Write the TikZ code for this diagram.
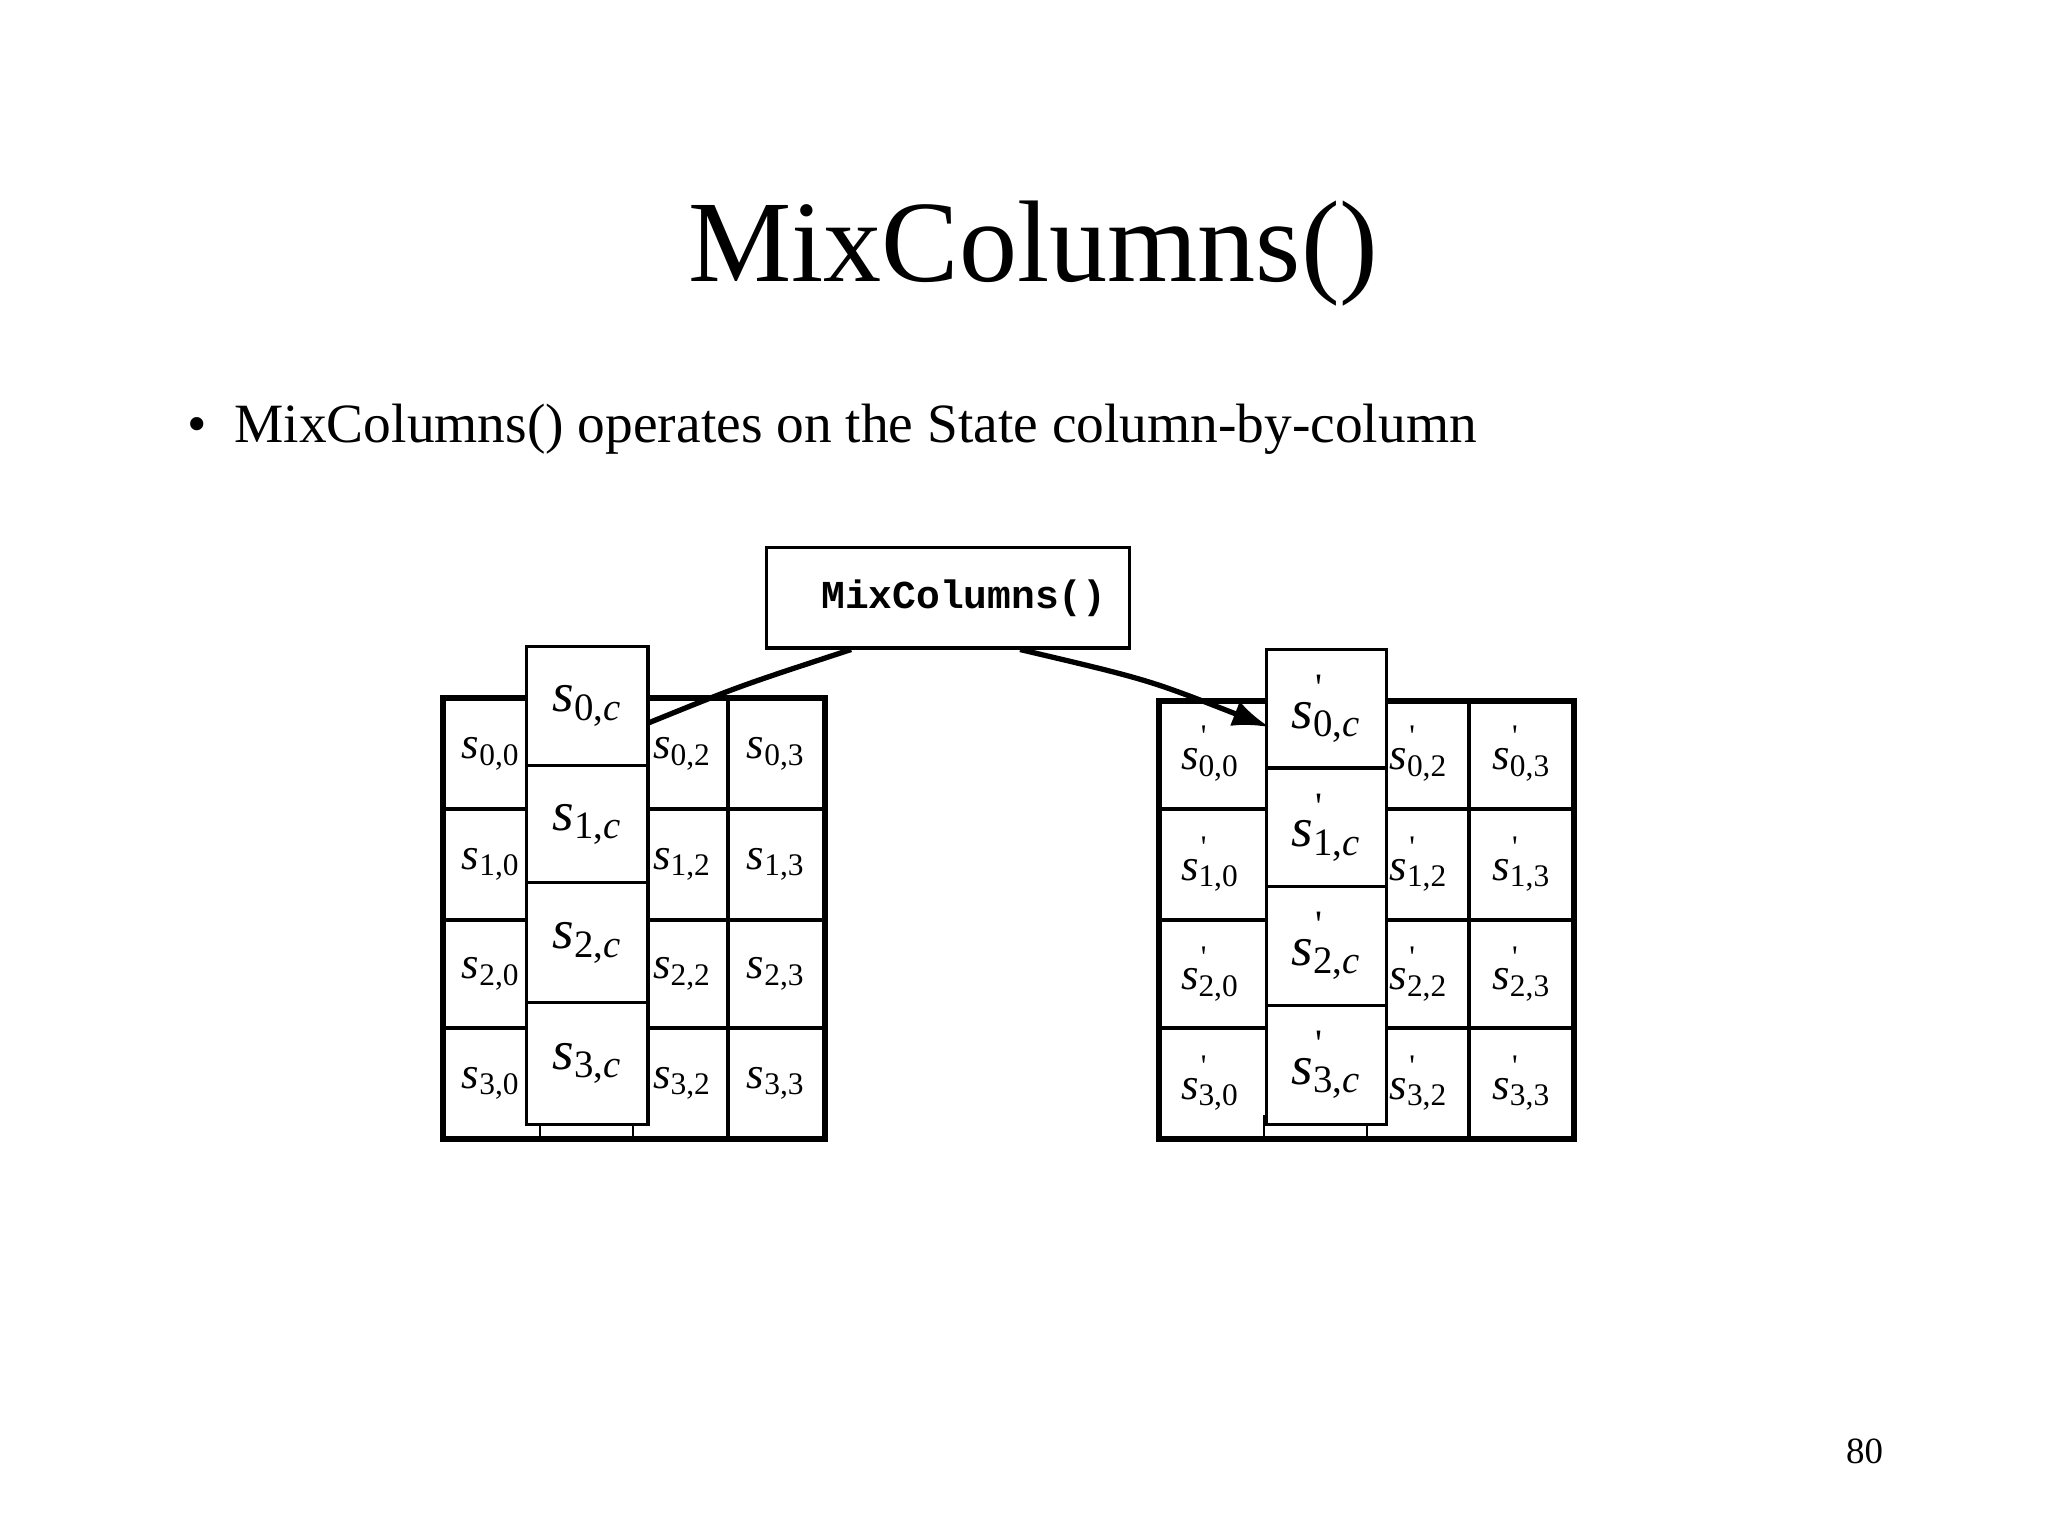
\documentclass[tikz,border=0pt]{standalone}
\usepackage{fontspec}
\setmainfont{Liberation Serif}
\setmonofont{Liberation Mono}
\usetikzlibrary{arrows.meta}
\newcommand{\cl}[2]{\textit{s}\textsubscript{#2}}
\newcommand{\cp}[2]{\textit{s}\rlap{\raisebox{0.5em}{\kern0.05em\scalebox{0.7}{\textquotesingle}}}\textsubscript{#2}}
\begin{document}
\begin{tikzpicture}[x=0.5pt,y=-0.5pt,
  cellt/.style={font=\fontsize{17}{17}\selectfont,inner sep=0},
  bigt/.style={font=\fontsize{21}{21}\selectfont,inner sep=0},
  ovl/.style={draw,line width=1.2pt,fill=white}]
\path[use as bounding box] (0,0) rectangle (1552,1164);
\node (title) at (783,192) {\fontsize{44}{44}\selectfont MixColumns()};
\node[anchor=west] (bul) at (135,325) {\fontsize{21}{21}\selectfont \textbullet\hspace{0.5em}MixColumns() operates on the State column-by-column};
\node[anchor=east] (pg) at (1434,1100) {\fontsize{14}{14}\selectfont 80};
\node[draw,line width=1.2pt,minimum width=137.5pt,minimum height=38pt,inner sep=0] (mc) at (718.5,453) {\hspace{1.2em}\fontsize{15}{15}\selectfont\ttfamily\bfseries MixColumns()};
% left grid
\foreach \x in {409,480}{\draw[line width=0.8pt] (\x,845) -- (\x,863);}
\foreach \x in {552}{\draw[line width=1.5pt] (\x,529) -- (\x,863);}
\foreach \y in {613,697,779}{\draw[line width=1.5pt] (336,\y) -- (625,\y);}
\draw[line width=2.2pt] (336,529) rectangle (625,863);
\foreach \r/\y in {0/571,1/655,2/738,3/821}{
  \node[cellt] (l\r0) at (372,\y) {\cl{}{\r,0}};
  \node[cellt] (l\r2) at (517,\y) {\cl{}{\r,2}};
  \node[cellt] (l\r3) at (588,\y) {\cl{}{\r,3}};}
\foreach \r/\a/\b in {0/490/580,1/580/669,2/669/760,3/760/852}{
  \draw[ovl] (399,\a) rectangle (491,\b);
  \node[bigt] (lc\r) at (445,{(\a+\b)/2}) {\cl{}{\r,\textit{c}}};}
% right grid
\foreach \x in {958,1036}{\draw[line width=0.8pt] (\x,845) -- (\x,863);}
\foreach \x in {1113}{\draw[line width=1.5pt] (\x,531) -- (\x,863);}
\foreach \y in {613,697,779}{\draw[line width=1.5pt] (878,\y) -- (1193,\y);}
\draw[line width=2.2pt] (878,531) rectangle (1193,863);
\foreach \r/\y in {0/571,1/655,2/738,3/821}{
  \node[cellt] (r\r0) at (917,\y) {\cp{}{\r,0}};
  \node[cellt] (r\r2) at (1075,\y) {\cp{}{\r,2}};
  \node[cellt] (r\r3) at (1153,\y) {\cp{}{\r,3}};}
\foreach \r/\a/\b in {0/492/582,1/582/672,2/672/762,3/762/852}{
  \draw[ovl] (960,\a) rectangle (1051,\b);
  \node[bigt] (rc\r) at (1005,{(\a+\b)/2}) {\cp{}{\r,\textit{c}}};}
% connectors
\coordinate (ls) at (491,548);
\coordinate (rs) at (962,551);
\draw[line width=2pt] (ls) .. controls (560,520) .. (mc.south west -| 645,0);
\draw[line width=2pt,-{Latex[length=14pt,width=10pt]}] (mc.south west -| 773,0) .. controls (870,515) .. (rs);
\end{tikzpicture}
\end{document}
